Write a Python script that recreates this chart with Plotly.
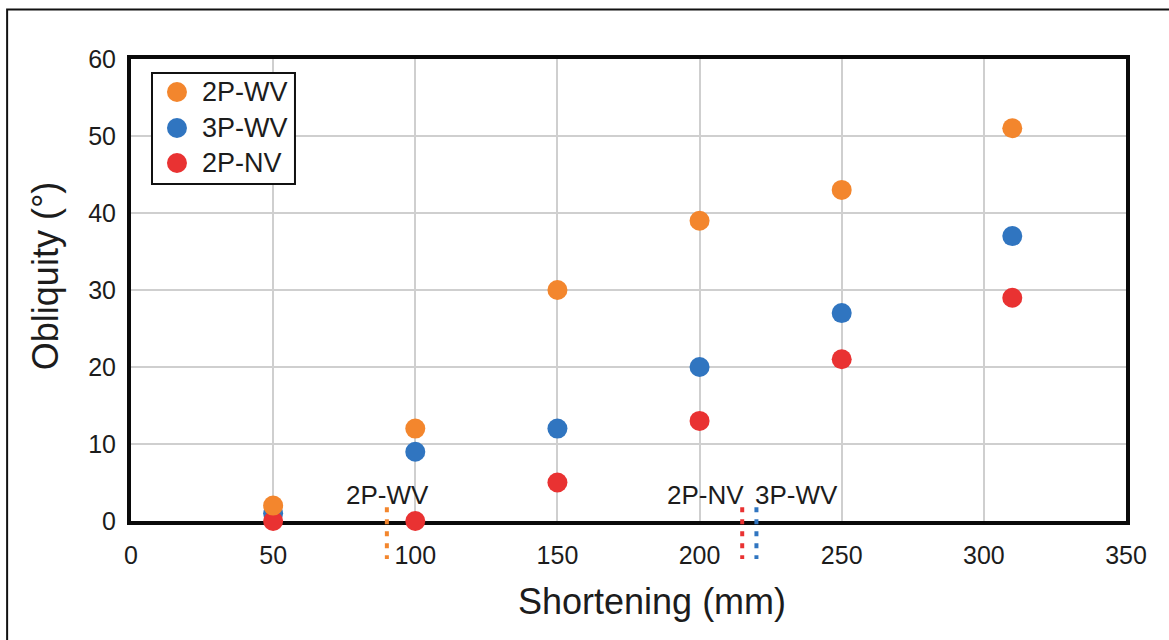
import plotly.graph_objects as go

# Obliquity measured at each shortening step, per model
shortening = [50, 100, 150, 200, 250, 310]
obl_2p_wv = [2, 12, 30, 39, 43, 51]
obl_3p_wv = [1, 9, 12, 20, 27, 37]
obl_2p_nv = [0, 0, 5, 13, 21, 29]

# Shortening at which each model starts to show obliquity
onset_labels = ["2P-WV", "2P-NV", "3P-WV"]
onset_x = [90, 215, 220]

legend_order = ["2P-WV", "3P-WV", "2P-NV"]

x_ticks = [0, 50, 100, 150, 200, 250, 300, 350]
y_ticks = [0, 10, 20, 30, 40, 50, 60]

ORANGE = "#F3862D"
BLUE = "#3075C0"
RED = "#E93232"
FONT = "Liberation Sans, Arial, sans-serif"
TXT = "#1c1c1c"

colors = {"2P-WV": ORANGE, "3P-WV": BLUE, "2P-NV": RED}

fig = go.Figure()

# draw order: blue underneath, then red, then orange
series = [("3P-WV", obl_3p_wv), ("2P-NV", obl_2p_nv), ("2P-WV", obl_2p_wv)]
for name, vals in series:
    fig.add_trace(go.Scatter(
        x=shortening, y=vals, mode="markers", name=name,
        marker=dict(size=20, color=colors[name], line=dict(width=0)),
        cliponaxis=False, showlegend=False,
    ))

# dotted onset markers crossing the x axis
for lab, xv in zip(onset_labels, onset_x):
    fig.add_shape(type="line", xref="x", yref="paper",
                  x0=xv, x1=xv, y0=0.03, y1=-0.082,
                  line=dict(color=colors[lab], width=4, dash="5px,7px"),
                  layer="above")

ann_pos = {"2P-WV": ("center", 1), "2P-NV": ("right", 4), "3P-WV": ("left", -3)}
for lab, xv in zip(onset_labels, onset_x):
    anchor, shift = ann_pos[lab]
    fig.add_annotation(x=xv, y=3.4, xref="x", yref="y", text=lab,
                       showarrow=False, xanchor=anchor, yanchor="middle",
                       xshift=shift,
                       font=dict(family=FONT, size=26, color=TXT))

# legend box with circle swatches
LEG_X0, LEG_X1, LEG_Y0, LEG_Y1 = 0.0211, 0.1648, 0.7294, 0.9697
fig.add_shape(type="rect", xref="paper", yref="paper",
              x0=LEG_X0, x1=LEG_X1, y0=LEG_Y0, y1=LEG_Y1,
              fillcolor="white", line=dict(color="#111111", width=2),
              layer="above")
row_y = [0.9286, 0.8506, 0.7749]
for name, ry in zip(legend_order, row_y):
    fig.add_shape(type="circle", xref="paper", yref="paper",
                  xsizemode="pixel", ysizemode="pixel",
                  xanchor=0.0462, yanchor=ry,
                  x0=-10, x1=10, y0=-10, y1=10,
                  fillcolor=colors[name], line=dict(width=0),
                  layer="above")
    fig.add_annotation(x=0.0693, y=ry, xref="paper", yref="paper",
                       text=name, showarrow=False,
                       xanchor="left", yanchor="middle",
                       font=dict(family=FONT, size=27, color=TXT))

# axis titles
fig.add_annotation(x=0.5236, y=-0.175, xref="paper", yref="paper",
                   text="Shortening (mm)", showarrow=False,
                   xanchor="center", yanchor="middle",
                   font=dict(family=FONT, size=36, color=TXT))
fig.add_annotation(x=-0.0864, y=0.530, xref="paper", yref="paper",
                   text="Obliquity (°)", showarrow=False, textangle=-90,
                   xanchor="center", yanchor="middle",
                   font=dict(family=FONT, size=36, color=TXT))

# outer frame, open on the right and bottom edges
fig.add_shape(type="rect", xref="paper", yref="paper",
              x0=-0.1245, x1=1.3, y0=-0.6, y1=1.107,
              line=dict(color="#111111", width=2), layer="above")

axis_common = dict(
    showgrid=True, gridcolor="#cfcfcf", gridwidth=2,
    zeroline=False, showline=True, linecolor="#0a0a0a", linewidth=4,
    mirror=True, ticks="", layer="below traces",
    tickfont=dict(family=FONT, size=25, color=TXT),
)

fig.update_xaxes(range=[0, 350], tickvals=x_ticks, ticklabelstandoff=9,
                 **axis_common)
fig.update_yaxes(range=[0, 60], tickvals=y_ticks, ticklabelstandoff=6,
                 **axis_common)

fig.update_layout(
    width=1169, height=640,
    margin=dict(l=131, r=43, t=59, b=119),
    paper_bgcolor="white", plot_bgcolor="white",
    showlegend=False,
    font=dict(family=FONT, color=TXT),
)

fig.write_html("out.html")
